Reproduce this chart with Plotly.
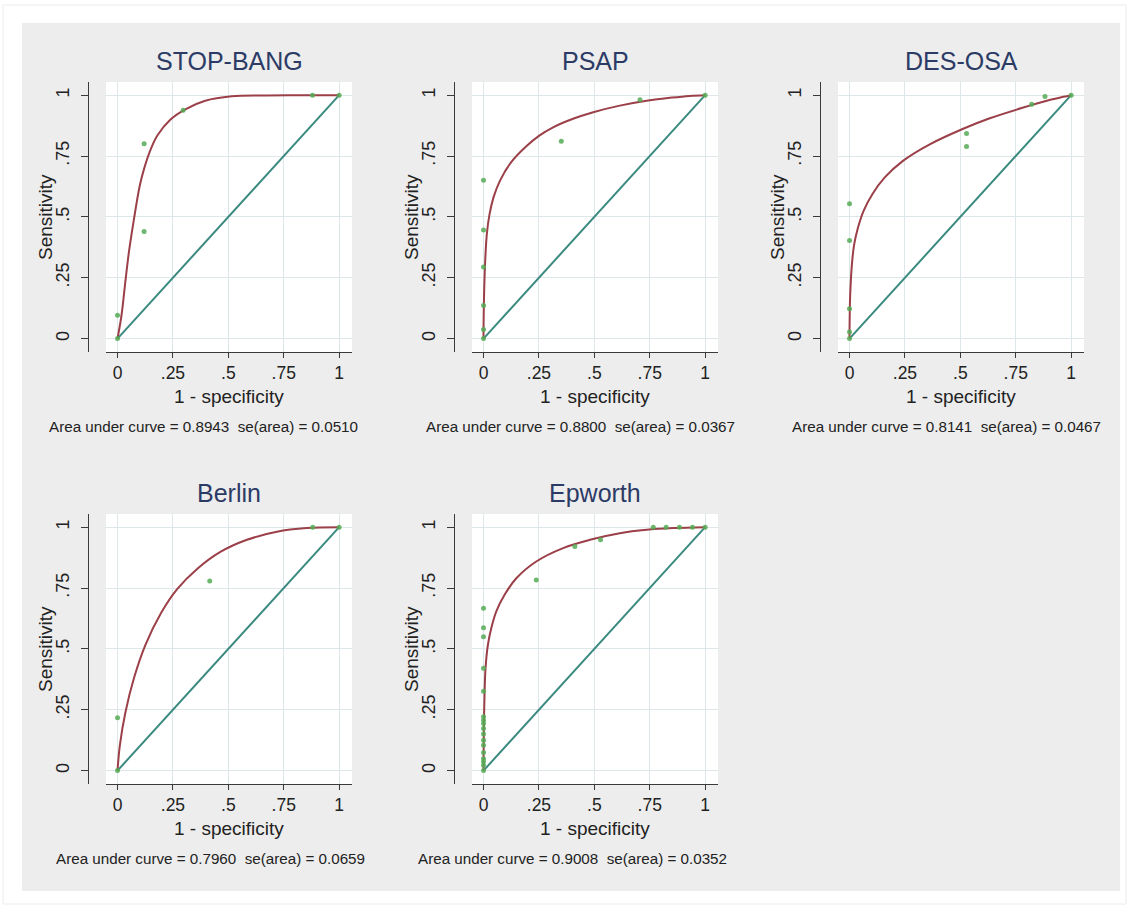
import plotly.graph_objects as go

W, H = 1129, 908

# ---------------- data ----------------
titles = ["STOP-BANG", "PSAP", "DES-OSA", "Berlin", "Epworth"]
auc_text = [
    "Area under curve = 0.8943 \u00a0se(area) = 0.0510",
    "Area under curve = 0.8800 \u00a0se(area) = 0.0367",
    "Area under curve = 0.8141 \u00a0se(area) = 0.0467",
    "Area under curve = 0.7960 \u00a0se(area) = 0.0659",
    "Area under curve = 0.9008 \u00a0se(area) = 0.0352",
]
tick_vals = [0, 0.25, 0.5, 0.75, 1]
tick_text = ["0", ".25", ".5", ".75", "1"]
ref_x = [0, 1]
ref_y = [0, 1]

# observed operating points
sb_pt_x = [0, 0, 0.12, 0.12, 0.296, 0.88, 1]
sb_pt_y = [0, 0.096, 0.44, 0.80, 0.938, 1.0, 1.0]
psap_pt_x = [0, 0, 0, 0, 0, 0, 0.351, 0.706, 1]
psap_pt_y = [0, 0.037, 0.136, 0.294, 0.446, 0.65, 0.811, 0.981, 1.0]
des_pt_x = [0, 0, 0, 0, 0, 0.528, 0.528, 0.822, 0.882, 1]
des_pt_y = [0, 0.027, 0.123, 0.403, 0.554, 0.789, 0.842, 0.963, 0.994, 1.0]
ber_pt_x = [0, 0, 0.416, 0.881, 1]
ber_pt_y = [0, 0.217, 0.779, 1.0, 1.0]
epw_pt_x = [0, 0, 0, 0, 0, 0, 0, 0, 0, 0, 0, 0, 0, 0, 0, 0, 0,
            0.238, 0.412, 0.528, 0.766, 0.824, 0.884, 0.943, 1]
epw_pt_y = [0, 0.022, 0.036, 0.049, 0.074, 0.104, 0.125, 0.15, 0.173, 0.193,
            0.207, 0.221, 0.326, 0.42, 0.55, 0.587, 0.667,
            0.783, 0.92, 0.948, 1.0, 1.0, 1.0, 1.0, 1.0]

# fitted ROC curves
sb_fit_x = [0, 0.018, 0.033, 0.051, 0.074, 0.10, 0.119, 0.144, 0.179, 0.239,
            0.306, 0.396, 0.516, 0.65, 0.8, 1.0]
sb_fit_y = [0, 0.096, 0.215, 0.353, 0.49, 0.627, 0.695, 0.764, 0.833, 0.90,
            0.942, 0.977, 0.995, 0.999, 1.0, 1.0]
psap_fit_x = [0, 0.0005, 0.003, 0.0075, 0.015, 0.027, 0.045, 0.075, 0.125,
              0.193, 0.25, 0.314, 0.404, 0.495, 0.615, 0.736, 0.85, 0.93, 1.0]
psap_fit_y = [0, 0.08, 0.20, 0.318, 0.43, 0.51, 0.58, 0.65, 0.725,
              0.79, 0.833, 0.868, 0.903, 0.93, 0.957, 0.977, 0.99, 0.997, 1.0]
des_fit_x = [0, 0.0005, 0.003, 0.012, 0.021, 0.038, 0.063, 0.103, 0.158,
             0.241, 0.362, 0.513, 0.633, 0.784, 0.89, 0.965, 1.0]
des_fit_y = [0, 0.07, 0.18, 0.318, 0.387, 0.455, 0.524, 0.593, 0.661,
             0.73, 0.798, 0.862, 0.905, 0.949, 0.977, 0.993, 1.0]
ber_fit_x = [0, 0.0105, 0.036, 0.074, 0.126, 0.197, 0.269, 0.359, 0.464,
             0.584, 0.719, 0.854, 1.0]
ber_fit_y = [0, 0.104, 0.241, 0.379, 0.516, 0.648, 0.745, 0.828, 0.898,
             0.948, 0.981, 0.996, 1.0]
epw_fit_x = [0, 0.0003, 0.0015, 0.0045, 0.009, 0.0196, 0.0347, 0.0573, 0.095,
             0.148, 0.238, 0.359, 0.48, 0.615, 0.736, 0.857, 1.0]
epw_fit_y = [0, 0.06, 0.173, 0.31, 0.42, 0.516, 0.584, 0.653, 0.722,
             0.79, 0.859, 0.914, 0.948, 0.975, 0.989, 0.996, 1.0]

pts_x = [sb_pt_x, psap_pt_x, des_pt_x, ber_pt_x, epw_pt_x]
pts_y = [sb_pt_y, psap_pt_y, des_pt_y, ber_pt_y, epw_pt_y]
fit_x = [sb_fit_x, psap_fit_x, des_fit_x, ber_fit_x, epw_fit_x]
fit_y = [sb_fit_y, psap_fit_y, des_fit_y, ber_fit_y, epw_fit_y]

# ---------------- layout constants ----------------
X0 = [106, 472, 838, 106, 472]      # left of plot region (px)
TOP = [82, 82, 82, 514, 514]        # top of plot region (px)
PW, PH = 246, 270
AREA_CX = [203, 580, 947, 211, 572]

FONT = "Liberation Sans, Arial, sans-serif"
BG = "#ededed"
GRID = "#dde6e8"
AXC = "#3a3a3a"
TITLE_C = "#2c3b66"
CURVE_C = "#9b3f48"
DIAG_C = "#3a8a80"
DOT_C = "#55aa55"

fig = go.Figure()
layout = dict(
    width=W, height=H,
    margin=dict(l=0, r=0, t=0, b=0),
    paper_bgcolor=BG,
    plot_bgcolor="white",
    showlegend=False,
    font=dict(family=FONT, color="#222"),
)

def px(x):
    return x / W

def py(y):
    return 1 - y / H

annotations = []
for i in range(5):
    n = "" if i == 0 else str(i + 1)
    xa, ya = "x" + n, "y" + n
    x0, top = X0[i], TOP[i]
    layout["xaxis" + n] = dict(
        domain=[px(x0), px(x0 + PW)], anchor=ya, range=[-0.052, 1.058],
        showline=True, linecolor=AXC, linewidth=1.3,
        ticks="outside", ticklen=5, tickcolor=AXC, tickwidth=1.3,
        tickvals=tick_vals, ticktext=tick_text,
        tickfont=dict(size=17.5, color="#222"),
        showgrid=True, gridcolor=GRID, gridwidth=1, zeroline=False,
        fixedrange=True,
    )
    layout["yaxis" + n] = dict(
        domain=[py(top + PH), py(top)], anchor="free", position=px(x0 - 18),
        range=[-0.055, 1.054],
        showline=True, linecolor=AXC, linewidth=1.3,
        ticks="outside", ticklen=7, tickcolor=AXC, tickwidth=1.3,
        tickvals=tick_vals, ticktext=tick_text, tickangle=-90,
        ticklabelstandoff=5,
        tickfont=dict(size=18, color="#222"),
        showgrid=True, gridcolor=GRID, gridwidth=1, zeroline=False,
        fixedrange=True,
    )
    fig.add_trace(go.Scatter(x=ref_x, y=ref_y, mode="lines", xaxis=xa, yaxis=ya,
                             line=dict(color=DIAG_C, width=2), hoverinfo="skip"))
    fig.add_trace(go.Scatter(x=fit_x[i], y=fit_y[i], mode="lines", xaxis=xa, yaxis=ya,
                             line=dict(color=CURVE_C, width=2, shape="spline", smoothing=1.0),
                             hoverinfo="skip"))
    fig.add_trace(go.Scatter(x=pts_x[i], y=pts_y[i], mode="markers", xaxis=xa, yaxis=ya,
                             marker=dict(color=DOT_C, size=5, opacity=0.85, line=dict(width=0))))
    # panel title
    annotations.append(dict(text=titles[i], x=px(x0 + PW / 2), y=py(top - 21),
                            xref="paper", yref="paper", showarrow=False,
                            xanchor="center", yanchor="middle",
                            font=dict(size=25, color=TITLE_C, family=FONT)))
    # y title
    annotations.append(dict(text="Sensitivity", x=px(x0 - 18 - 43), y=py(top + PH / 2),
                            xref="paper", yref="paper", showarrow=False, textangle=-90,
                            xanchor="center", yanchor="middle",
                            font=dict(size=19, color="#222", family=FONT)))
    # x title
    annotations.append(dict(text="1 - specificity", x=px(x0 + PW / 2), y=py(top + PH + 44),
                            xref="paper", yref="paper", showarrow=False,
                            xanchor="center", yanchor="middle",
                            font=dict(size=19, color="#222", family=FONT)))
    # area text
    annotations.append(dict(text=auc_text[i], x=px(AREA_CX[i]), y=py(top + PH + 74),
                            xref="paper", yref="paper", showarrow=False,
                            xanchor="center", yanchor="middle",
                            font=dict(size=15.2, color="#222", family=FONT)))

shapes = []
# white outer border strips around the grey panel
for (a, b, c, d) in [(0, 0, W, 23), (0, 891, W, H), (0, 0, 22, H), (1120, 0, W, H)]:
    shapes.append(dict(type="rect", xref="paper", yref="paper",
                       x0=px(a), x1=px(c), y0=py(d), y1=py(b),
                       fillcolor="white", line=dict(width=0), layer="below"))
shapes.append(dict(type="rect", xref="paper", yref="paper",
                   x0=px(3), x1=px(1126), y0=py(904), y1=py(5),
                   fillcolor="rgba(0,0,0,0)", line=dict(color="#ececec", width=1),
                   layer="below"))

layout["annotations"] = annotations
layout["shapes"] = shapes
fig.update_layout(**layout)

fig.write_html("out.html", config={"displayModeBar": False},
               post_script="document.body.style.margin='0';")
